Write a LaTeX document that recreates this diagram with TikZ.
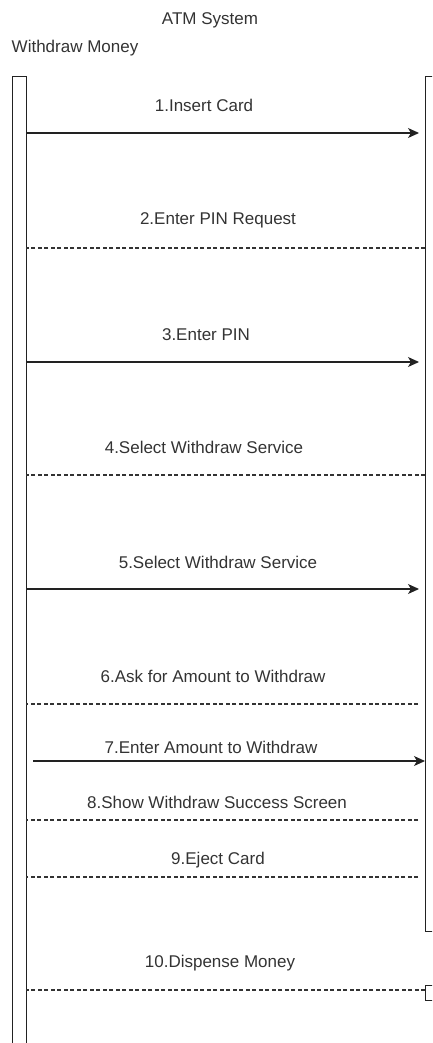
\documentclass[tikz,border=0pt]{standalone}
\usepackage{fontspec}
\setmainfont{Liberation Sans}
\usetikzlibrary{arrows.meta}
\definecolor{ln}{HTML}{222222}
\definecolor{dl}{HTML}{333333}
\definecolor{tx}{HTML}{333333}
\tikzset{
  msg/.style={draw=ln, line width=1.1pt, -{Stealth[length=11pt,width=10pt,inset=3pt]}},
  ret/.style={draw=dl, line width=1.1pt, dash pattern=on 4pt off 2.5pt},
  lbl/.style={text=tx, font=\fontsize{17}{20}\selectfont, inner sep=0pt},
  life/.style={draw=ln, line width=1.2pt, fill=white}
}
\begin{document}
\begin{tikzpicture}[x=1pt,y=-1pt]
\useasboundingbox (0,0) rectangle (432,1043);
\clip (0,0) rectangle (432,1043);
% titles
\node[lbl] (title) at (210,20) {ATM System};
\node[lbl] (uc) at (75,48) {Withdraw Money};
% activation boxes
\node[life, anchor=north west, minimum width=14pt, minimum height=1000pt, inner sep=0pt] (L) at (12,76) {};
\node[life, anchor=north west, minimum width=30pt, minimum height=855pt, inner sep=0pt] (R) at (425,76) {};
\node[life, anchor=north west, minimum width=30pt, minimum height=15pt, inner sep=0pt] (R2) at (425,985) {};
% endpoints
\coordinate (a1) at (26,133);  \coordinate (b1) at (425,133);
\coordinate (a2) at (26,248);  \coordinate (b2) at (425,248);
\coordinate (a3) at (26,362);  \coordinate (b3) at (425,362);
\coordinate (a4) at (26,475);  \coordinate (b4) at (425,475);
\coordinate (a5) at (26,589);  \coordinate (b5) at (425,589);
\coordinate (a6) at (26,704);  \coordinate (b6) at (418,704);
\coordinate (a7) at (33,761);  \coordinate (b7) at (425,761);
\coordinate (a8) at (26,820);  \coordinate (b8) at (418,820);
\coordinate (a9) at (26,877);  \coordinate (b9) at (418,877);
\coordinate (a10) at (26,990); \coordinate (b10) at (425,990);
% messages
\draw[msg, shorten >=6pt] (a1) -- (b1);
\node[lbl] (t1) at (204,105) {1.Insert Card};
\draw[ret] (b2) -- (a2);
\node[lbl] (t2) at (218,220) {2.Enter PIN Request};
\draw[msg, shorten >=6pt] (a3) -- (b3);
\node[lbl] (t3) at (206,335) {3.Enter PIN};
\draw[ret] (b4) -- (a4);
\node[lbl] (t4) at (204,447) {4.Select Withdraw Service};
\draw[msg, shorten >=6pt] (a5) -- (b5);
\node[lbl] (t5) at (218,562) {5.Select Withdraw Service};
\draw[ret] (b6) -- (a6);
\node[lbl] (t6) at (213,676) {6.Ask for Amount to Withdraw};
\draw[msg] (a7) -- (b7);
\node[lbl] (t7) at (211,747) {7.Enter Amount to Withdraw};
\draw[ret] (b8) -- (a8);
\node[lbl] (t8) at (217,802) {8.Show Withdraw Success Screen};
\draw[ret] (b9) -- (a9);
\node[lbl] (t9) at (218,860) {9.Eject Card};
\draw[ret] (b10) -- (a10);
\node[lbl] (t10) at (220,963) {10.Dispense Money};
\end{tikzpicture}
\end{document}
